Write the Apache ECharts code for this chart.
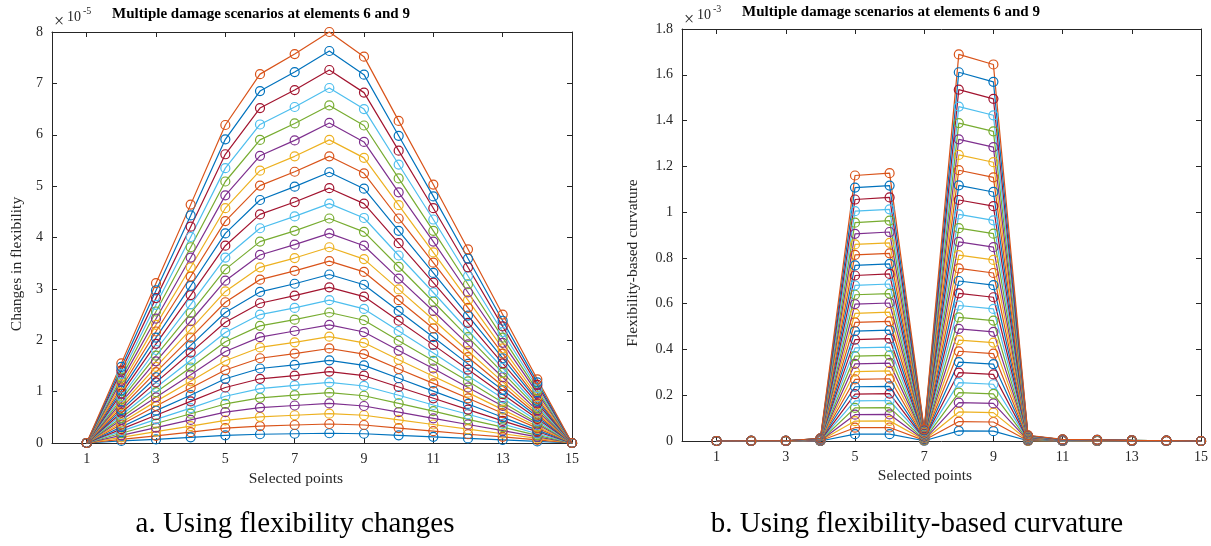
<!doctype html>
<html>
    <head>
        <meta charset="utf-8">
        <title>Multiple damage scenarios</title>
        <style>
            html, body { margin: 0; padding: 0; background: #fff; }
            #main { width: 1211px; height: 546px; }
        </style>
    </head>
    <body>
        <div id="main"></div>
        <script src="https://cdn.jsdelivr.net/npm/echarts@6/dist/echarts.min.js"></script>
        <script>

            // selected points along the beam
            var pointsX = [1, 2, 3, 4, 5, 6, 7, 8, 9, 10, 11, 12, 13, 14, 15];
            var oddTicks = [1, 3, 5, 7, 9, 11, 13, 15];

            // MATLAB default colour order
            var colorOrder = ['#0072BD', '#D95319', '#EDB120', '#7E2F8E', '#77AC30', '#4DBEEE', '#A2142F'];

            // a. flexibility changes, x 1e-5 (30 damage scenarios)
            var flexChange = [
                [0,0.04,0.07,0.11,0.15,0.17,0.18,0.19,0.18,0.15,0.12,0.09,0.06,0.03,0],
                [0,0.07,0.14,0.21,0.29,0.33,0.35,0.37,0.35,0.29,0.23,0.17,0.12,0.06,0],
                [0,0.11,0.22,0.33,0.44,0.51,0.54,0.57,0.54,0.45,0.36,0.27,0.18,0.09,0],
                [0,0.15,0.30,0.45,0.60,0.69,0.73,0.77,0.72,0.60,0.48,0.36,0.24,0.12,0],
                [0,0.19,0.38,0.57,0.76,0.88,0.93,0.98,0.92,0.77,0.62,0.46,0.31,0.15,0],
                [0,0.23,0.46,0.68,0.91,1.06,1.12,1.18,1.11,0.93,0.74,0.56,0.37,0.18,0],
                [0,0.27,0.54,0.81,1.08,1.25,1.31,1.39,1.31,1.09,0.87,0.65,0.43,0.22,0],
                [0,0.31,0.63,0.93,1.25,1.45,1.52,1.61,1.51,1.26,1.01,0.76,0.50,0.25,0],
                [0,0.36,0.72,1.07,1.42,1.65,1.74,1.84,1.73,1.44,1.16,0.87,0.58,0.29,0],
                [0,0.40,0.81,1.20,1.60,1.86,1.96,2.07,1.95,1.62,1.30,0.98,0.65,0.32,0],
                [0,0.45,0.89,1.33,1.78,2.06,2.18,2.30,2.16,1.80,1.45,1.08,0.72,0.36,0],
                [0,0.49,0.99,1.47,1.97,2.28,2.40,2.54,2.39,1.99,1.60,1.20,0.79,0.39,0],
                [0,0.54,1.08,1.61,2.15,2.50,2.63,2.78,2.61,2.18,1.75,1.31,0.87,0.43,0],
                [0,0.59,1.18,1.76,2.35,2.72,2.87,3.03,2.85,2.38,1.91,1.43,0.95,0.47,0],
                [0,0.64,1.28,1.90,2.54,2.94,3.10,3.28,3.08,2.57,2.06,1.54,1.03,0.51,0],
                [0,0.69,1.38,2.05,2.74,3.18,3.35,3.54,3.33,2.78,2.23,1.67,1.11,0.55,0],
                [0,0.74,1.48,2.21,2.95,3.42,3.60,3.81,3.58,2.99,2.40,1.79,1.19,0.59,0],
                [0,0.79,1.59,2.37,3.16,3.66,3.86,4.08,3.84,3.20,2.57,1.92,1.28,0.63,0],
                [0,0.85,1.70,2.53,3.38,3.92,4.13,4.37,4.11,3.43,2.75,2.06,1.37,0.68,0],
                [0,0.90,1.81,2.70,3.61,4.18,4.41,4.66,4.38,3.65,2.93,2.19,1.46,0.72,0],
                [0,0.96,1.93,2.88,3.84,4.45,4.69,4.96,4.66,3.89,3.12,2.34,1.55,0.77,0],
                [0,1.02,2.05,3.06,4.08,4.73,4.99,5.27,4.95,4.13,3.31,2.48,1.65,0.82,0],
                [0,1.08,2.17,3.24,4.32,5.01,5.28,5.58,5.25,4.37,3.51,2.63,1.74,0.86,0],
                [0,1.14,2.30,3.42,4.57,5.30,5.58,5.90,5.55,4.63,3.71,2.78,1.84,0.91,0],
                [0,1.21,2.42,3.61,4.82,5.59,5.89,6.23,5.86,4.88,3.92,2.93,1.95,0.97,0],
                [0,1.27,2.56,3.81,5.09,5.90,6.22,6.57,6.18,5.15,4.13,3.09,2.05,1.02,0],
                [0,1.34,2.69,4.01,5.35,6.20,6.54,6.91,6.50,5.42,4.35,3.25,2.16,1.07,0],
                [0,1.41,2.82,4.21,5.62,6.52,6.87,7.26,6.82,5.69,4.57,3.42,2.27,1.13,0],
                [0,1.48,2.97,4.43,5.91,6.85,7.22,7.63,7.17,5.98,4.80,3.59,2.38,1.18,0],
                [0,1.55,3.11,4.64,6.19,7.18,7.57,8.00,7.52,6.27,5.03,3.77,2.50,1.24,0]
            ];

            // b. flexibility-based curvature, x 1e-3
            var curvature = [
                [0,0,0,0,0.030,0.030,0.001,0.044,0.043,0.001,0,0,0,0,0],
                [0,0,0,0.001,0.058,0.059,0.003,0.085,0.083,0.001,0,0,0,0,0],
                [0,0,0,0.001,0.087,0.088,0.004,0.127,0.124,0.002,0.001,0,0,0,0],
                [0,0,0,0.001,0.115,0.116,0.005,0.168,0.164,0.003,0.001,0.001,0,0,0],
                [0,0,0,0.001,0.145,0.146,0.006,0.211,0.206,0.003,0.001,0.001,0,0,0],
                [0,0,0,0.002,0.175,0.177,0.008,0.255,0.248,0.004,0.001,0.001,0.001,0,0],
                [0,0,0,0.002,0.205,0.207,0.009,0.299,0.291,0.004,0.001,0.001,0.001,0,0],
                [0,0,0,0.002,0.237,0.239,0.010,0.345,0.336,0.005,0.001,0.001,0.001,0,0],
                [0,0,0,0.003,0.269,0.272,0.012,0.392,0.382,0.006,0.002,0.001,0.001,0,0],
                [0,0,0,0.003,0.303,0.306,0.013,0.441,0.430,0.007,0.002,0.001,0.001,0,0],
                [0,0,0,0.003,0.337,0.340,0.015,0.490,0.477,0.007,0.002,0.001,0.001,0,0],
                [0,0,0,0.004,0.371,0.374,0.016,0.540,0.526,0.008,0.002,0.002,0.001,0.001,0],
                [0,0,0,0.004,0.407,0.410,0.018,0.592,0.577,0.009,0.002,0.002,0.001,0.001,0],
                [0,0,0,0.005,0.443,0.447,0.019,0.645,0.628,0.010,0.003,0.002,0.001,0.001,0],
                [0,0,0,0.005,0.480,0.484,0.021,0.699,0.681,0.010,0.003,0.002,0.001,0.001,0],
                [0,0,0,0.005,0.518,0.523,0.023,0.754,0.734,0.011,0.003,0.002,0.002,0.001,0],
                [0,0,0,0.006,0.558,0.563,0.024,0.812,0.791,0.012,0.003,0.002,0.002,0.001,0],
                [0,0,0,0.006,0.598,0.603,0.026,0.870,0.847,0.013,0.003,0.003,0.002,0.001,0],
                [0,0,0,0.007,0.639,0.644,0.028,0.930,0.906,0.014,0.004,0.003,0.002,0.001,0],
                [0,0.001,0.001,0.007,0.680,0.686,0.030,0.990,0.964,0.015,0.004,0.003,0.002,0.001,0],
                [0,0.001,0.001,0.007,0.723,0.730,0.032,1.053,1.026,0.016,0.004,0.003,0.002,0.001,0],
                [0,0.001,0.001,0.008,0.767,0.774,0.034,1.117,1.088,0.017,0.004,0.003,0.002,0.001,0],
                [0,0.001,0.001,0.008,0.813,0.820,0.035,1.183,1.152,0.018,0.005,0.004,0.002,0.001,0],
                [0,0.001,0.001,0.009,0.859,0.866,0.038,1.250,1.218,0.019,0.005,0.004,0.003,0.001,0],
                [0,0.001,0.001,0.009,0.905,0.913,0.040,1.318,1.284,0.020,0.005,0.004,0.003,0.001,0],
                [0,0.001,0.001,0.010,0.954,0.963,0.042,1.389,1.353,0.021,0.006,0.004,0.003,0.001,0],
                [0,0.001,0.001,0.010,1.004,1.012,0.044,1.461,1.423,0.022,0.006,0.004,0.003,0.001,0],
                [0,0.001,0.001,0.011,1.055,1.064,0.046,1.535,1.495,0.023,0.006,0.005,0.003,0.002,0],
                [0,0.001,0.001,0.011,1.107,1.116,0.048,1.611,1.569,0.024,0.006,0.005,0.003,0.002,0],
                [0,0.001,0.001,0.012,1.160,1.170,0.051,1.689,1.645,0.025,0.007,0.005,0.003,0.002,0]
            ];

            var serif = 'Liberation Serif';
            var axisGrey = '#262626';

            var myChart = echarts.init(document.getElementById('main'));

            function makeSeries(rows, axisIdx) {
                return rows.map(function (row, i) {
                    var c = colorOrder[i % colorOrder.length];
                    return {
                        type: 'line',
                        xAxisIndex: axisIdx,
                        yAxisIndex: axisIdx,
                        data: row.map(function (v, j) { return [pointsX[j], v]; }),
                        symbol: 'circle',
                        symbolSize: 9,
                        clip: false,
                        silent: true,
                        lineStyle: { width: 1.2, color: c },
                        itemStyle: { color: 'rgba(0,0,0,0)', borderColor: c, borderWidth: 1.2 },
                        emphasis: { disabled: true }
                    };
                });
            }

            function xAxes(gridIdx) {
                var base = {
                    type: 'value', gridIndex: gridIdx, min: 0, max: 15,
                    splitLine: { show: false },
                    axisLine: { onZero: false, lineStyle: { color: axisGrey, width: 1 } },
                    axisTick: { inside: true, length: 5, customValues: oddTicks, lineStyle: { color: axisGrey } }
                };
                return [
                    Object.assign({}, base, {
                        position: 'bottom',
                        axisLabel: { customValues: oddTicks, fontFamily: serif, fontSize: 14, color: axisGrey, margin: 9 }
                    }),
                    Object.assign({}, base, { position: 'top', axisLabel: { show: false } })
                ];
            }

            function yAxes(gridIdx, max, step) {
                var base = {
                    type: 'value', gridIndex: gridIdx, min: 0, max: max, interval: step,
                    splitLine: { show: false },
                    axisLine: { show: true, onZero: false, lineStyle: { color: axisGrey, width: 1 } },
                    axisTick: { show: true, inside: true, length: 5, lineStyle: { color: axisGrey } }
                };
                return [
                    Object.assign({}, base, {
                        position: 'left',
                        axisLabel: { fontFamily: serif, fontSize: 14, color: axisGrey, margin: 9 }
                    }),
                    Object.assign({}, base, { position: 'right', axisLabel: { show: false } })
                ];
            }

            function txt(x, y, s, size, opts) {
                return {
                    type: 'text', x: x, y: y, rotation: (opts && opts.rotation) || 0, silent: true,
                    style: {
                        text: s, fontFamily: serif, fontSize: size,
                        fontWeight: (opts && opts.bold) ? 'bold' : 'normal',
                        fill: (opts && opts.fill) || axisGrey,
                        textAlign: (opts && opts.align) || 'center',
                        textVerticalAlign: 'middle'
                    }
                };
            }

            myChart.setOption({
                animation: false,
                backgroundColor: '#fff',
                grid: [
                    { left: 52, right: 639, top: 32, bottom: 103 },
                    { left: 682, right: 8, top: 29, bottom: 105 }
                ],
                xAxis: xAxes(0).concat(xAxes(1)),
                yAxis: yAxes(0, 8, 1).concat(yAxes(1, 1.8, 0.2)),
                series: makeSeries(flexChange, 0).concat(
                    makeSeries(curvature, 2)
                ),
                graphic: [
                    // titles
                    txt(261, 14, 'Multiple damage scenarios at elements 6 and 9', 15, { bold: true, fill: '#000' }),
                    txt(891, 12, 'Multiple damage scenarios at elements 6 and 9', 15, { bold: true, fill: '#000' }),
                    // exponent labels
                    txt(54, 22, '×', 18, { align: 'left' }),
                    txt(67, 17, '10', 14, { align: 'left' }),
                    txt(83, 11, '-5', 10, { align: 'left' }),
                    txt(684, 20, '×', 18, { align: 'left' }),
                    txt(697, 15, '10', 14, { align: 'left' }),
                    txt(713, 9, '-3', 10, { align: 'left' }),
                    // axis names
                    txt(17, 264, 'Changes in flexibility', 15.5, { rotation: Math.PI / 2 }),
                    txt(633, 263, 'Flexibility-based curvature', 15.5, { rotation: Math.PI / 2 }),
                    txt(296, 479, 'Selected points', 15.5),
                    txt(925, 476, 'Selected points', 15.5),
                    // captions
                    txt(295, 524, 'a. Using flexibility changes', 29, { fill: '#000' }),
                    txt(917, 524, 'b. Using flexibility-based curvature', 29, { fill: '#000' })
                ]
            });

        </script>
    </body>
</html>
